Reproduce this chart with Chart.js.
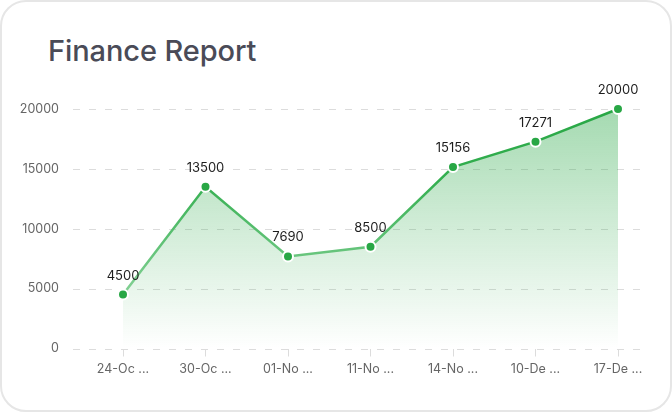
<!DOCTYPE html>
<html>
<head>
<meta charset="utf-8">
<script src="https://cdn.jsdelivr.net/npm/chart.js@4.4.0/dist/chart.umd.min.js"></script>
<style>
  html, body { margin: 0; padding: 0; background: #fff; }
  #card {
    position: absolute; left: 0; top: 0;
    width: 668px; height: 408px;
    background: #fff;
    border: 2px solid #e6e6e6;
    border-radius: 26px;
  }
  #title {
    position: absolute; left: 48px; top: 33px;
    font-family: Inter, "Noto Sans", sans-serif;
    font-size: 29px; font-weight: 500; color: #4a4b57;
    margin: 0; letter-spacing: -0.1px;
  }
  #chart-area { position: absolute; left: 0; top: 0; }
</style>
</head>
<body>
<div id="card"></div>
<h1 id="title">Finance Report</h1>
<canvas id="chart-area" width="672" height="412"></canvas>
<script>
// chart data
var categories = ['24-Oc ...', '30-Oc ...', '01-No ...', '11-No ...', '14-No ...', '10-De ...', '17-De ...'];
var amounts = [4500, 13500, 7690, 8500, 15156, 17271, 20000];
var yTicks = [0, 5000, 10000, 15000, 20000];

var green = 'rgb(40,167,69)';

// dashed horizontal grid lines, wider than the chart area
var dashedGrid = {
    id: 'dashedGrid',
    beforeDatasetsDraw: function (chart) {
        var ctx = chart.ctx;
        var y = chart.scales.y;
        ctx.save();
        ctx.strokeStyle = '#dcdcdc';
        ctx.lineWidth = 1;
        ctx.setLineDash([7, 9]);
        yTicks.forEach(function (v) {
            var py = Math.round(y.getPixelForValue(v)) + 0.5;
            ctx.beginPath();
            ctx.moveTo(73, py);
            ctx.lineTo(642, py);
            ctx.stroke();
        });
        ctx.restore();
    }
};

// value labels above each point
var valueLabels = {
    id: 'valueLabels',
    afterDatasetsDraw: function (chart) {
        var ctx = chart.ctx;
        var meta = chart.getDatasetMeta(0);
        ctx.save();
        ctx.font = '13px Inter, "Noto Sans", sans-serif';
        ctx.fillStyle = '#1e1e1e';
        ctx.textAlign = 'center';
        ctx.textBaseline = 'middle';
        meta.data.forEach(function (pt, i) {
            ctx.fillText(String(amounts[i]), pt.x, pt.y - 19);
        });
        ctx.restore();
    }
};

function fillGradient(context) {
    var area = context.chart.chartArea;
    if (!area) return null;
    var g = context.chart.ctx.createLinearGradient(0, area.top, 0, area.bottom);
    g.addColorStop(0, 'rgba(40,167,69,0.42)');
    g.addColorStop(1, 'rgba(40,167,69,0.0)');
    return g;
}

function lineGradient(context) {
    var area = context.chart.chartArea;
    if (!area) return green;
    var g = context.chart.ctx.createLinearGradient(0, area.top, 0, area.bottom);
    g.addColorStop(0, 'rgb(40,167,69)');
    g.addColorStop(0.3, 'rgb(52,175,80)');
    g.addColorStop(1, 'rgb(170,225,182)');
    return g;
}

var config = {
    type: 'line',
    data: {
        labels: categories,
        datasets: [{
            data: amounts,
            borderColor: lineGradient,
            borderWidth: 2.5,
            backgroundColor: fillGradient,
            fill: 'origin',
            tension: 0,
            pointRadius: 5,
            pointHoverRadius: 5,
            pointBackgroundColor: green,
            pointBorderColor: '#fff',
            pointBorderWidth: 2,
            clip: false
        }]
    },
    options: {
        responsive: false,
        animation: false,
        layout: { padding: { top: 109, right: 54, bottom: 24, left: 0 } },
        plugins: {
            legend: { display: false },
            tooltip: { enabled: false },
            title: { display: false }
        },
        scales: {
            x: {
                offset: false,
                border: { display: false },
                grid: {
                    drawOnChartArea: false,
                    drawTicks: true,
                    tickLength: 8,
                    tickColor: '#dcdcdc'
                },
                ticks: {
                    color: '#666',
                    padding: 5,
                    maxRotation: 0,
                    autoSkip: false,
                    font: { family: 'Inter, "Noto Sans", sans-serif', size: 12.5 }
                }
            },
            y: {
                min: 0,
                max: 20000,
                afterFit: function (scale) { scale.width = 123; },
                afterBuildTicks: function (scale) {
                    scale.ticks = yTicks.map(function (v) { return { value: v }; });
                },
                border: { display: false },
                grid: { display: false },
                ticks: {
                    color: '#666',
                    padding: 56,
                    callback: function (v) { return String(v); },
                    font: { family: 'Inter, "Noto Sans", sans-serif', size: 12.5 }
                }
            }
        }
    },
    plugins: [dashedGrid, valueLabels]
};

window.onload = function () {
    var ctx = document.getElementById('chart-area').getContext('2d');
    window.financeChart = new Chart(ctx, config);
};
</script>
</body>
</html>
